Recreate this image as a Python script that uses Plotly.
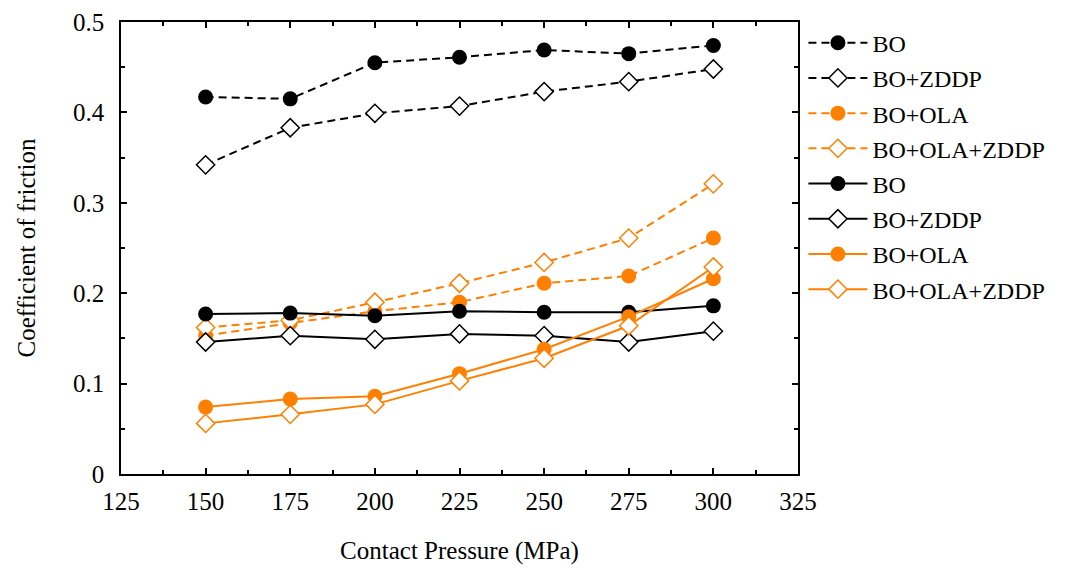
import plotly.graph_objects as go

pressure = [150, 175, 200, 225, 250, 275, 300]

# dashed series
bo_dash = [0.417, 0.415, 0.455, 0.461, 0.469, 0.465, 0.474]
bo_zddp_dash = [0.342, 0.383, 0.399, 0.407, 0.423, 0.434, 0.448]
bo_ola_dash = [0.153, 0.167, 0.180, 0.190, 0.211, 0.219, 0.261]
bo_ola_zddp_dash = [0.162, 0.170, 0.190, 0.211, 0.234, 0.261, 0.321]

# solid series
bo_solid = [0.177, 0.178, 0.175, 0.180, 0.179, 0.179, 0.186]
bo_zddp_solid = [0.146, 0.153, 0.149, 0.155, 0.153, 0.146, 0.158]
bo_ola_solid = [0.074, 0.083, 0.086, 0.111, 0.138, 0.174, 0.216]
bo_ola_zddp_solid = [0.056, 0.066, 0.077, 0.103, 0.128, 0.164, 0.229]

x_ticks = [125, 150, 175, 200, 225, 250, 275, 300, 325]
y_ticks = [0, 0.1, 0.2, 0.3, 0.4, 0.5]
y_tick_text = ["0", "0.1", "0.2", "0.3", "0.4", "0.5"]

BLACK = "#000000"
ORANGE = "#FF8000"
FONT = "Times New Roman, Liberation Serif, serif"
FS = 25

series = [
    ("BO", bo_dash, BLACK, "circle", True, "dash"),
    ("BO+ZDDP", bo_zddp_dash, BLACK, "diamond", False, "dash"),
    ("BO+OLA", bo_ola_dash, ORANGE, "circle", True, "dash"),
    ("BO+OLA+ZDDP", bo_ola_zddp_dash, ORANGE, "diamond", False, "dash"),
    ("BO", bo_solid, BLACK, "circle", True, "solid"),
    ("BO+ZDDP", bo_zddp_solid, BLACK, "diamond", False, "solid"),
    ("BO+OLA", bo_ola_solid, ORANGE, "circle", True, "solid"),
    ("BO+OLA+ZDDP", bo_ola_zddp_solid, ORANGE, "diamond", False, "solid"),
]

fig = go.Figure()
for i, (name, vals, color, sym, filled, dash) in enumerate(series):
    fig.add_trace(go.Scatter(
        x=pressure, y=vals, name=name, mode="lines+markers",
        legendgroup=f"g{i}",
        line=dict(color=color, width=2, dash="8px,5px" if dash == "dash" else "solid"),
        marker=dict(
            symbol=sym,
            size=15 if filled else 14,
            color=color if filled else "white",
            line=dict(color=color, width=0 if filled else 1.5),
        ),
    ))

axis_common = dict(
    showgrid=False, zeroline=False, showline=True, linecolor="black", linewidth=1.5,
    mirror="ticks", ticks="inside", ticklen=6, tickwidth=1.5, tickcolor="black",
    tickfont=dict(family=FONT, size=FS, color="black"),
)

fig.update_xaxes(
    range=[125, 325], tickvals=x_ticks, ticklabelstandoff=4, automargin=False,
    minor=dict(ticks="inside", ticklen=4, tickwidth=1.5, tickcolor="black", dtick=12.5, tick0=125),
    title=dict(text="Contact Pressure (MPa)", font=dict(family=FONT, size=FS, color="black"), standoff=28),
    **axis_common,
)
fig.update_yaxes(
    range=[0, 0.5], tickvals=y_ticks, ticktext=y_tick_text, ticklabelstandoff=10, automargin=False,
    minor=dict(ticks="inside", ticklen=4, tickwidth=1.5, tickcolor="black", dtick=0.05, tick0=0),
    title=dict(text="Coefficient of friction", font=dict(family=FONT, size=FS, color="black"), standoff=30),
    **axis_common,
)

fig.update_layout(
    width=1068, height=574,
    margin=dict(l=121, r=270, t=22, b=100),
    paper_bgcolor="white", plot_bgcolor="white",
    legend=dict(
        x=1.008, y=1.003, xanchor="left", yanchor="top",
        font=dict(family=FONT, size=24, color="black"),
        itemwidth=59, tracegroupgap=1, bgcolor="rgba(0,0,0,0)", maxheight=1,
    ),
)

fig.write_html("out.html")
